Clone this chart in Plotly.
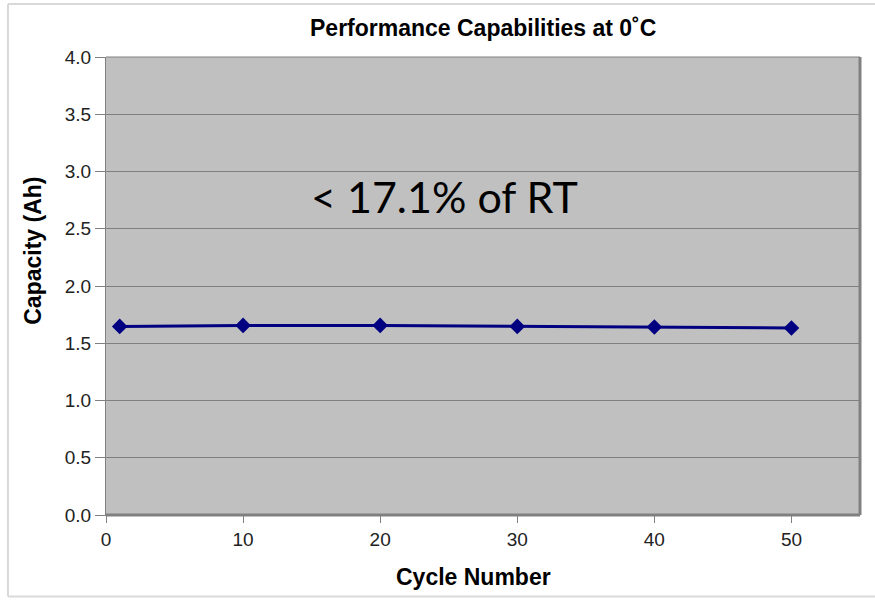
import plotly.graph_objects as go

# Capacity measured at 0 °C over cycling
cycles = [1, 10, 20, 30, 40, 50]
capacity_ah = [1.647, 1.656, 1.656, 1.647, 1.642, 1.633]

x_ticks = [0, 10, 20, 30, 40, 50]
y_ticks = [0.0, 0.5, 1.0, 1.5, 2.0, 2.5, 3.0, 3.5, 4.0]
y_tick_text = [f"{v:.1f}" for v in y_ticks]

fig = go.Figure()
fig.add_trace(go.Scatter(
    x=cycles, y=capacity_ah,
    mode="lines+markers",
    line=dict(color="#000080", width=3),
    marker=dict(symbol="diamond", size=12, color="#000080"),
    showlegend=False,
))

axis_font = dict(family="Liberation Sans, Arial, sans-serif", size=19, color="#222222")
title_font = dict(family="Liberation Sans, Arial, sans-serif", size=23, color="#000000")

fig.update_xaxes(
    range=[0, 55], tickvals=x_ticks, ticks="outside", ticklen=7, tickcolor="#808080",
    showgrid=False, zeroline=False, showline=True, linecolor="#808080", linewidth=1,
    tickfont=axis_font,
)
fig.update_yaxes(
    range=[0, 4.0], tickvals=y_ticks, ticktext=y_tick_text, ticks="outside", ticklen=10,
    tickcolor="#808080", showgrid=True, gridcolor="#808080", gridwidth=1,
    zeroline=False, showline=True, linecolor="#808080", linewidth=1,
    tickfont=axis_font,
)

# Plot-area frame with darker right/bottom edges
fig.add_shape(type="line", xref="paper", yref="paper", x0=1, x1=1, y0=0, y1=1,
              line=dict(color="#808080", width=3))
fig.add_shape(type="line", xref="paper", yref="paper", x0=0, x1=1, y0=0, y1=0,
              line=dict(color="#808080", width=3))
fig.add_shape(type="line", xref="paper", yref="paper", x0=0, x1=1, y0=1, y1=1,
              line=dict(color="#808080", width=1))

# Outer chart border (open on the right side)
border = dict(color="#d9d9d9", width=2)
fig.add_shape(type="line", xref="paper", yref="paper", x0=-0.130, x1=1.0199, y0=1.1155, y1=1.1155, line=border)
fig.add_shape(type="line", xref="paper", yref="paper", x0=-0.130, x1=1.0199, y0=-0.178, y1=-0.178, line=border)
fig.add_shape(type="line", xref="paper", yref="paper", x0=-0.130, x1=-0.130, y0=-0.178, y1=1.1155, line=border)

# Chart title
fig.add_annotation(
    x=0.5, y=1.0, xref="paper", yref="paper", yanchor="bottom", yshift=14,
    text="<b>Performance Capabilities at 0˚C</b>", showarrow=False,
    font=dict(family="Liberation Sans, Arial, sans-serif", size=23, color="#000000"),
)
# Axis titles
fig.add_annotation(
    x=0.488, y=-0.135, xref="paper", yref="paper", xanchor="center", yanchor="middle",
    text="<b>Cycle Number</b>", showarrow=False, font=title_font,
)
fig.add_annotation(
    x=-0.0968, y=0.577, xref="paper", yref="paper", xanchor="center", yanchor="middle",
    text="<b>Capacity (Ah)</b>", showarrow=False, textangle=-90, font=title_font,
)
# Relative capacity note
fig.add_annotation(
    x=0.2695, y=0.695, xref="paper", yref="paper", xanchor="left", yanchor="middle",
    text="< 17.1% of RT", showarrow=False,
    font=dict(family="Lato, Open Sans, sans-serif", size=43, color="#000000"),
)

fig.update_layout(
    width=875, height=600,
    margin=dict(l=106, r=15, t=57, b=85),
    paper_bgcolor="#ffffff", plot_bgcolor="#c0c0c0",
)

fig.write_html("out.html")
